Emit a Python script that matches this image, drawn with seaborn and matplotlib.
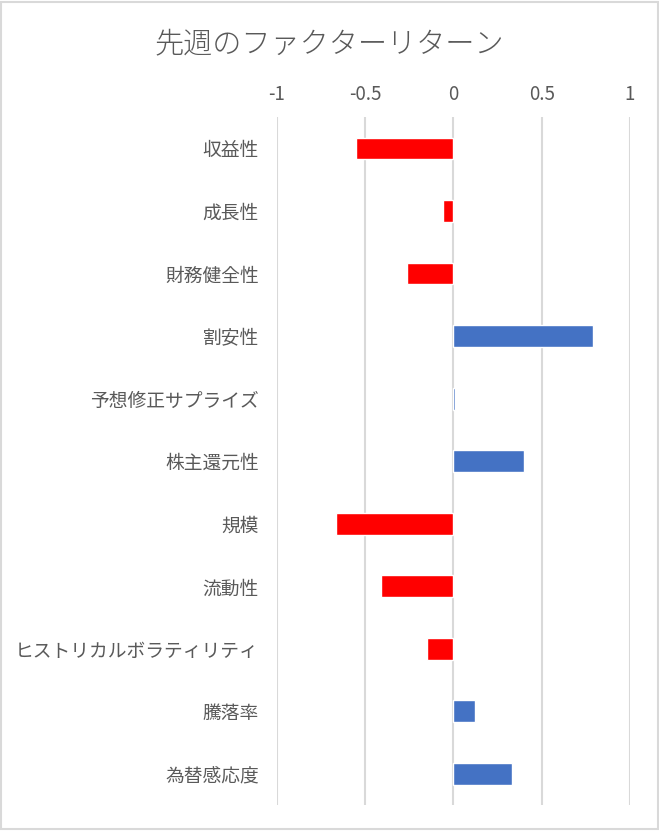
import numpy as np
import pandas as pd
import matplotlib
matplotlib.use("Agg")
import matplotlib.pyplot as plt
import seaborn as sns

factors = ["収益性", "成長性", "財務健全性", "割安性", "予想修正サプライズ", "株主還元性",
           "規模", "流動性", "ヒストリカルボラティリティ", "騰落率", "為替感応度"]
returns = [-0.55, -0.057, -0.26, 0.79, 0.01, 0.40, -0.665, -0.41, -0.15, 0.125, 0.33]
x_ticks = [-1, -0.5, 0, 0.5, 1]
x_tick_labels = ["-1", "-0.5", "0", "0.5", "1"]

sns.set_theme(style="white")
plt.rcParams["font.family"] = ["Noto Sans CJK JP", "DejaVu Sans"]

df = pd.DataFrame({"factor": factors, "ret": returns})
df["sign"] = np.where(df["ret"] < 0, "neg", "pos")

fig = plt.figure(figsize=(6.59, 8.31), dpi=100)
ax = fig.add_axes([0.420, 0.031, 0.536, 0.828])

sns.barplot(data=df, y="factor", x="ret", hue="sign", orient="h",
            palette={"neg": "#FF0000", "pos": "#4472C4"}, width=0.35,
            saturation=1, dodge=False, legend=False, ax=ax, zorder=3)

ax.set_xlim(-1, 1)
ax.set_xticks(x_ticks)
ax.set_xticklabels(x_tick_labels)
ax.xaxis.tick_top()
ax.tick_params(axis="x", length=0, pad=8.5, labelsize=13.5, colors="#595959")
ax.tick_params(axis="y", length=0, pad=13, labelsize=13.5, colors="#595959")
ax.grid(axis="x", color="#D9D9D9", linewidth=1.5, zorder=0)
ax.set_axisbelow(True)
for s in ax.spines.values():
    s.set_visible(False)
ax.set_xlabel("")
ax.set_ylabel("")

fig.text(0.5, 0.947, "先週のファクターリターン", ha="center", va="center",
         fontsize=21, color="#595959", fontweight="light")

fig.patches.append(plt.Rectangle((0.002, 0.002), 0.996, 0.996, transform=fig.transFigure,
                                 fill=False, edgecolor="#D9D9D9", linewidth=1.5))

fig.savefig("out.png", dpi=100)
